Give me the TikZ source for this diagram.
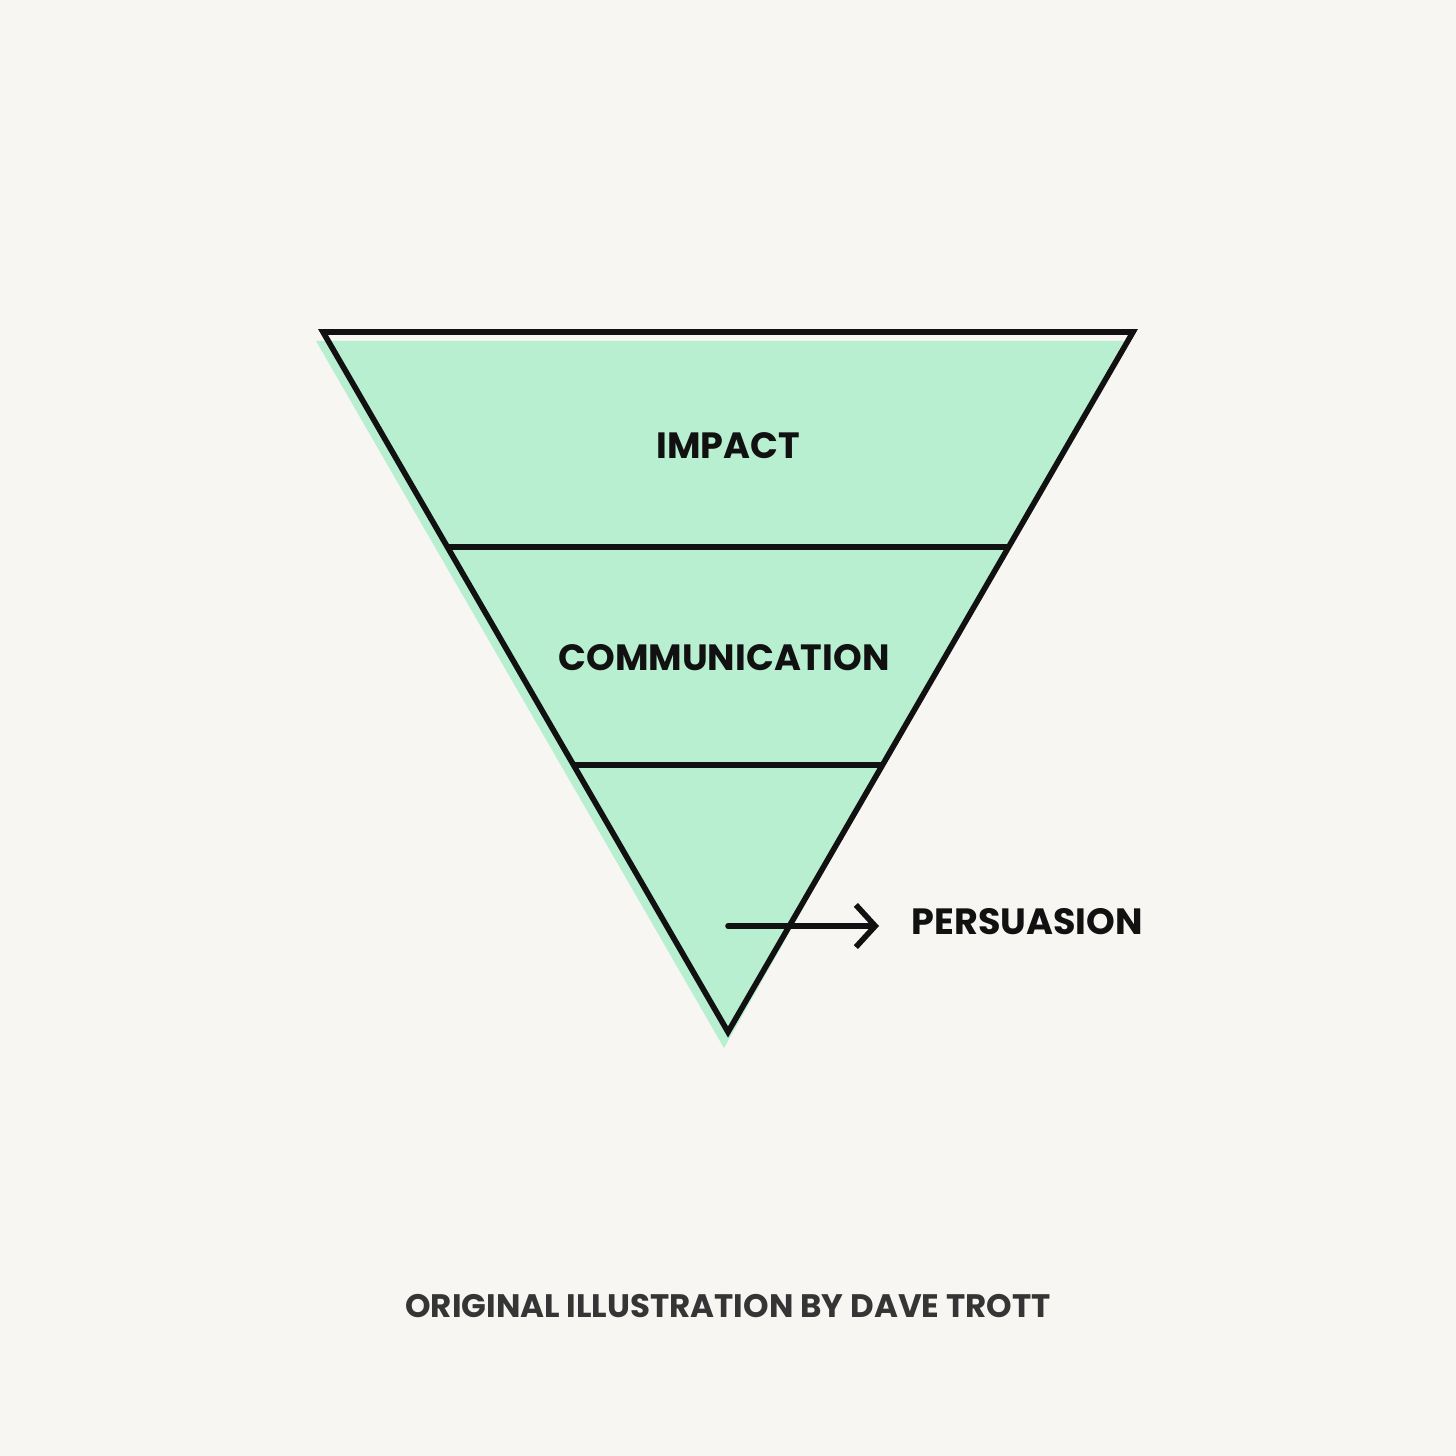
\documentclass[tikz,border=0pt]{standalone}
\usepackage{fontspec}
\setmainfont{Poppins}
\definecolor{papier}{HTML}{F7F6F2}
\definecolor{menta}{HTML}{B7EFD0}
\definecolor{tinta}{HTML}{111111}
\usetikzlibrary{calc, positioning, arrows.meta}

\begin{document}
\begin{tikzpicture}[
  capa/.style={font=\bfseries\fontsize{10.4}{11}\selectfont, text=tinta, inner sep=0pt},
  trazo/.style={draw=tinta, line width=1.6pt, line join=miter},
]
\fill[papier] (0,0) rectangle (14.56,-14.56);
\useasboundingbox (0,0) rectangle (14.56,-14.56);

% esquinas del embudo
\coordinate (tl) at (3.23,-3.32);
\coordinate (tr) at (11.33,-3.32);
\coordinate (ap) at (7.28,-10.32);

% sombra verde desplazada
\fill[menta] (3.16,-3.41) -- (11.24,-3.41) -- (7.24,-10.48) -- cycle;
\draw[trazo] (tl) -- (tr) -- (ap) -- cycle;
\draw[trazo] ($(tl)!0.307!(ap)$) -- ($(tr)!0.307!(ap)$);
\draw[trazo] ($(tl)!0.619!(ap)$) -- ($(tr)!0.619!(ap)$);

\node[capa] (impact) at (7.28,-4.46) {IMPACT};
\node[capa] (comm) at (7.24,-6.58) {COMMUNICATION};
\node[capa, anchor=west] (persuasion) at (9.11,-9.22) {PERSUASION};

\coordinate (flecha) at (7.28,-9.26);
\draw[trazo, line cap=round, -{Straight Barb[length=5.5pt, width=12pt, line width=1.6pt]}, shorten >=0.32cm]
  (flecha) -- (flecha -| persuasion.west);

\node[font=\bfseries\fontsize{9.25}{10}\selectfont, text=tinta!85] (credit) at (7.28,-13.06) {ORIGINAL ILLUSTRATION BY DAVE TROTT};
\end{tikzpicture}
\end{document}
